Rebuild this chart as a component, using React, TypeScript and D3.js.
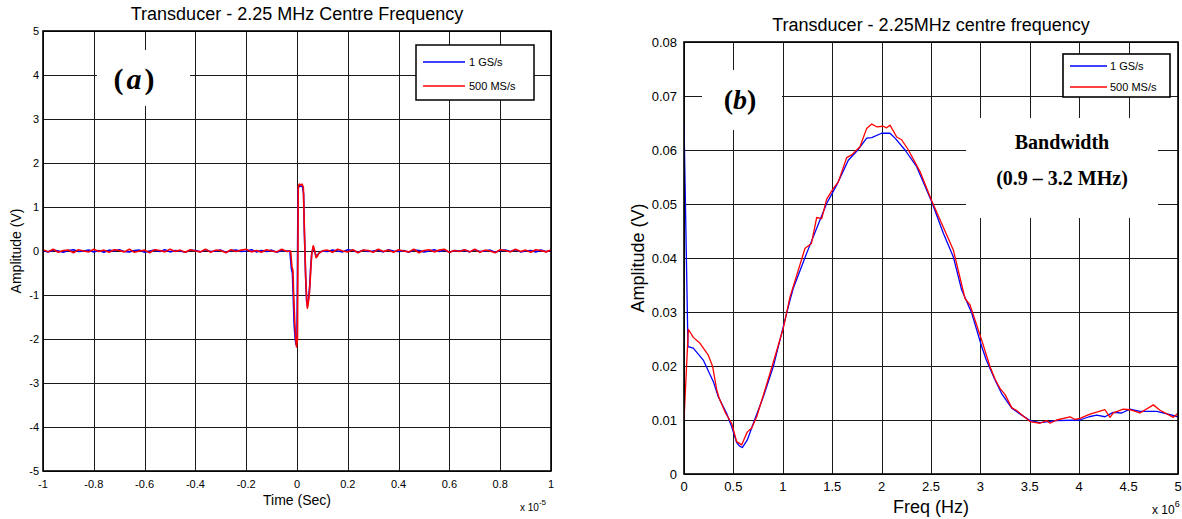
import React from 'react';
import * as d3 from 'd3';

// ---------- Data: panel (a) time domain (time in units of 1e-5 s) ----------
const timeTicks = [-1, -0.8, -0.6, -0.4, -0.2, 0, 0.2, 0.4, 0.6, 0.8, 1];
const ampTicks = [-5, -4, -3, -2, -1, 0, 1, 2, 3, 4, 5];

// baseline noise, sampled every 0.02 (x1e-5 s)
const noiseStep = 0.02;
const preStart = -1;
const postStart = 0.12;
const blueNoisePre = [
  0.01, -0.02, 0.02, 0.0, -0.03, 0.01, 0.03, -0.01, 0.0, 0.02,
  -0.02, 0.01, -0.03, 0.02, 0.0, 0.03, -0.01, -0.02, 0.01, 0.02,
  -0.03, 0.0, 0.02, -0.01, 0.03, -0.02, 0.01, 0.0, -0.03, 0.02,
  0.01, -0.02, 0.03, -0.01, 0.0, 0.02, -0.03, 0.01, 0.02, -0.01,
  0.0, 0.03, -0.02, 0.01, -0.01, 0.02, -0.03, 0.01, 0.0,
];
const blueNoisePost = [
  -0.01, 0.02, 0.0, -0.02, 0.03, 0.01, -0.03, 0.02, -0.01, 0.0,
  0.02, -0.02, 0.03, 0.0, -0.01, 0.01, -0.03, 0.02, 0.01, -0.02,
  0.0, 0.03, -0.01, 0.02, -0.03, 0.01, 0.0, 0.02, -0.02, 0.03,
  -0.01, 0.0, 0.02, -0.03, 0.01, 0.02, -0.01, 0.03, -0.02, 0.0,
  0.01, -0.02, 0.02, -0.01, 0.0,
];
const redNoisePre = [
  0.03, -0.02, 0.04, -0.03, 0.01, 0.02, -0.04, 0.03, 0.0, -0.02,
  0.04, -0.01, 0.02, -0.03, 0.03, 0.01, -0.02, 0.04, -0.03, 0.0,
  0.02, -0.04, 0.03, 0.01, -0.02, 0.04, -0.01, 0.02, -0.03, 0.03,
  0.0, -0.02, 0.04, -0.03, 0.02, 0.01, -0.04, 0.03, -0.01, 0.02,
  0.04, -0.02, 0.01, -0.03, 0.03, 0.0, -0.02, 0.04, -0.01,
];
const redNoisePost = [
  0.02, -0.03, 0.04, 0.0, -0.02, 0.03, -0.04, 0.02, 0.01, -0.03,
  0.04, -0.01, 0.02, -0.03, 0.03, 0.0, -0.02, 0.04, -0.04, 0.01,
  0.03, -0.02, 0.02, 0.04, -0.03, 0.01, -0.01, 0.03, -0.02, 0.04,
  -0.03, 0.02, 0.0, -0.04, 0.03, 0.01, -0.02, 0.04, -0.01, 0.02,
  -0.03, 0.03, 0.01, -0.02, 0.02,
];
// pulse around t = 0
const bluePulseT = [-0.028, -0.022, -0.018, -0.015, -0.011, -0.007, -0.004, 0.0, 0.004, 0.008, 0.015, 0.022, 0.026, 0.029, 0.034, 0.038, 0.041, 0.045, 0.05, 0.054, 0.058, 0.064, 0.07, 0.075, 0.082, 0.09, 0.1];
const bluePulseV = [0.0, -0.4, -0.5, -1.0, -1.7, -2.0, -2.12, -1.9, 1.4, 1.48, 1.47, 1.46, 1.3, 0.45, -0.6, -1.15, -1.25, -1.1, -0.8, -0.35, -0.05, 0.08, -0.02, -0.12, -0.08, -0.03, 0.0];
const redPulseT = [-0.025, -0.02, -0.016, -0.013, -0.009, -0.006, -0.002, 0.002, 0.005, 0.009, 0.015, 0.02, 0.025, 0.029, 0.034, 0.038, 0.041, 0.045, 0.049, 0.054, 0.058, 0.064, 0.07, 0.075, 0.08, 0.085, 0.095, 0.105];
const redPulseV = [0.0, -0.35, -0.45, -1.0, -1.6, -1.9, -2.18, -2.0, 1.45, 1.52, 1.5, 1.52, 1.45, 0.5, -0.55, -1.1, -1.3, -1.15, -0.95, -0.45, -0.07, 0.12, 0.0, -0.15, -0.12, -0.06, -0.02, 0.01];

// ---------- Data: panel (b) spectrum (frequency in MHz) ----------
const freqTicks = [0, 0.5, 1, 1.5, 2, 2.5, 3, 3.5, 4, 4.5, 5];
const specTicks = [0, 0.01, 0.02, 0.03, 0.04, 0.05, 0.06, 0.07, 0.08];

const blueF = [0, 0.04, 0.094, 0.195, 0.297, 0.347, 0.432, 0.482, 0.533, 0.56, 0.59, 0.641, 0.702, 0.803, 0.904, 1.005, 1.073, 1.106, 1.242, 1.343, 1.444, 1.545, 1.663, 1.764, 1.849, 1.9, 2.0, 2.085, 2.136, 2.237, 2.355, 2.507, 2.625, 2.726, 2.81, 2.912, 3.013, 3.06, 3.148, 3.215, 3.317, 3.418, 3.502, 3.603, 3.77, 4.008, 4.1, 4.177, 4.26, 4.345, 4.43, 4.514, 4.615, 4.784, 4.9, 5.0];
const blueA = [0.065, 0.0236, 0.0233, 0.0211, 0.0171, 0.0143, 0.0112, 0.0088, 0.0058, 0.0052, 0.0049, 0.0063, 0.0094, 0.0143, 0.0199, 0.0273, 0.0322, 0.0344, 0.0409, 0.0455, 0.0501, 0.0535, 0.0581, 0.0601, 0.0622, 0.0623, 0.0631, 0.0631, 0.0622, 0.06, 0.0569, 0.0504, 0.0446, 0.0402, 0.0341, 0.0298, 0.0236, 0.0211, 0.0174, 0.0149, 0.0122, 0.0109, 0.0099, 0.0095, 0.0099, 0.01, 0.0106, 0.0109, 0.0106, 0.0114, 0.0113, 0.012, 0.0116, 0.0116, 0.0111, 0.0106];
const redF = [0, 0.044, 0.094, 0.162, 0.246, 0.29, 0.331, 0.357, 0.42, 0.482, 0.533, 0.584, 0.641, 0.685, 0.736, 0.87, 1.005, 1.073, 1.225, 1.29, 1.343, 1.394, 1.444, 1.512, 1.562, 1.647, 1.697, 1.781, 1.849, 1.9, 1.95, 2.017, 2.05, 2.085, 2.153, 2.203, 2.271, 2.389, 2.507, 2.608, 2.726, 2.844, 2.895, 3.013, 3.097, 3.148, 3.2, 3.25, 3.317, 3.37, 3.43, 3.502, 3.603, 3.671, 3.705, 3.772, 3.907, 3.958, 4.008, 4.109, 4.261, 4.312, 4.345, 4.446, 4.514, 4.615, 4.75, 4.818, 4.953, 5.003];
const redA = [0.01, 0.0268, 0.0253, 0.0242, 0.022, 0.0199, 0.0156, 0.014, 0.0113, 0.0094, 0.006, 0.0054, 0.0078, 0.0085, 0.0106, 0.0186, 0.027, 0.0328, 0.0418, 0.0427, 0.0475, 0.0473, 0.0509, 0.0529, 0.0541, 0.0586, 0.0591, 0.0606, 0.064, 0.0648, 0.0643, 0.0644, 0.0641, 0.0646, 0.0624, 0.0619, 0.06, 0.056, 0.0506, 0.0464, 0.0415, 0.0325, 0.0313, 0.0248, 0.0199, 0.0176, 0.0158, 0.0147, 0.0123, 0.0117, 0.0108, 0.0097, 0.0094, 0.0099, 0.0094, 0.01, 0.0106, 0.0101, 0.0103, 0.0111, 0.0119, 0.0105, 0.0113, 0.012, 0.0119, 0.0113, 0.0128, 0.0118, 0.0105, 0.0113];

const legendLabels = ['1 GS/s', '500 MS/s'];
const BLUE = '#0000ff';
const RED = '#ff0000';
const GRID = '#1a1a1a';
const SANS = 'Arial, "Liberation Sans", Helvetica, sans-serif';
const SERIF = '"Times New Roman", "Liberation Serif", serif';

type Pt = [number, number];

function buildTime(pre: number[], pT: number[], pV: number[], post: number[]): Pt[] {
  const pts: Pt[] = [];
  pre.forEach((v, i) => pts.push([preStart + i * noiseStep, v]));
  pT.forEach((t, i) => pts.push([t, pV[i]]));
  post.forEach((v, i) => pts.push([postStart + i * noiseStep, v]));
  return pts;
}

const fmt = (v: number) => String(+v.toFixed(4));

export default function App() {
  // ---- panel (a) ----
  const aL = 43, aR = 551, aT = 31, aB = 471;
  const xa = d3.scaleLinear().domain([-1, 1]).range([aL, aR]);
  const ya = d3.scaleLinear().domain([-5, 5]).range([aB, aT]);
  const lineA = d3.line<Pt>().x(d => xa(d[0])).y(d => ya(d[1]));
  const bluePts = buildTime(blueNoisePre, bluePulseT, bluePulseV, blueNoisePost);
  const redPts = buildTime(redNoisePre, redPulseT, redPulseV, redNoisePost);

  // ---- panel (b) ----
  const bL = 684, bR = 1178, bT = 42, bB = 474;
  const xb = d3.scaleLinear().domain([0, 5]).range([bL, bR]);
  const yb = d3.scaleLinear().domain([0, 0.08]).range([bB, bT]);
  const lineB = d3.line<Pt>().x(d => xb(d[0])).y(d => yb(d[1]));
  const blueSpec: Pt[] = blueF.map((f, i) => [f, blueA[i]]);
  const redSpec: Pt[] = redF.map((f, i) => [f, redA[i]]);

  const crisp = (v: number) => Math.round(v) + 0.5;

  return (
    <svg width={1182} height={519} style={{ position: 'absolute', left: 0, top: 0, background: '#fff' }}>
      <defs>
        <clipPath id="clipA"><rect x={aL} y={aT} width={aR - aL} height={aB - aT} /></clipPath>
        <clipPath id="clipB"><rect x={bL} y={bT} width={bR - bL} height={bB - bT} /></clipPath>
      </defs>
      <rect x={0} y={0} width={1182} height={519} fill="#fff" />

      {/* ===== Panel (a) ===== */}
      <text x={297} y={20} textAnchor="middle" fontFamily={SANS} fontSize={18}>Transducer - 2.25 MHz Centre Frequency</text>
      <g shapeRendering="crispEdges" stroke={GRID} strokeWidth={1}>
        {timeTicks.map(t => <line key={'ga' + t} x1={crisp(xa(t))} x2={crisp(xa(t))} y1={aT} y2={aB} />)}
        {ampTicks.map(v => <line key={'gya' + v} x1={aL} x2={aR} y1={crisp(ya(v))} y2={crisp(ya(v))} />)}
      </g>
      <g clipPath="url(#clipA)" fill="none" strokeWidth={1.6} strokeLinejoin="round">
        <path d={lineA(bluePts) || ''} stroke={BLUE} />
        <path d={lineA(redPts) || ''} stroke={RED} />
      </g>
      {/* (a) label box */}
      <rect x={97} y={50} width={93} height={56} fill="#fff" />
      <text x={134} y={89} textAnchor="middle" fontFamily={SERIF} fontSize={30} fontWeight="bold">
        (<tspan dx={3} fontStyle="italic">a</tspan><tspan dx={3}>)</tspan>
      </text>
      {/* legend (a) */}
      <rect x={416} y={45} width={118} height={55} fill="#fff" stroke="#000" strokeWidth={1.5} />
      {legendLabels.map((lab, i) => (
        <g key={'la' + lab}>
          <line x1={423} x2={465} y1={62 + i * 24} y2={62 + i * 24} stroke={i === 0 ? BLUE : RED} strokeWidth={1.3} />
          <text x={469} y={66 + i * 24} fontFamily={SANS} fontSize={11}>{lab}</text>
        </g>
      ))}
      <rect x={aL} y={aT} width={aR - aL} height={aB - aT} fill="none" stroke="#000" strokeWidth={1.6} />
      {timeTicks.map(t => (
        <text key={'ta' + t} x={xa(t)} y={488} textAnchor="middle" fontFamily={SANS} fontSize={11}>{fmt(t)}</text>
      ))}
      {ampTicks.map(v => (
        <text key={'tya' + v} x={39} y={ya(v) + 4} textAnchor="end" fontFamily={SANS} fontSize={11}>{fmt(v)}</text>
      ))}
      <text x={297} y={505} textAnchor="middle" fontFamily={SANS} fontSize={14}>Time (Sec)</text>
      <text transform={`translate(21,${(aT + aB) / 2}) rotate(-90)`} textAnchor="middle" fontFamily={SANS} fontSize={14}>Amplitude (V)</text>
      <text x={520} y={511} fontFamily={SANS} fontSize={10}>x 10<tspan dy={-6} fontSize={8}>-5</tspan></text>

      {/* ===== Panel (b) ===== */}
      <text x={931} y={31} textAnchor="middle" fontFamily={SANS} fontSize={18}>Transducer - 2.25MHz centre frequency</text>
      <g shapeRendering="crispEdges" stroke={GRID} strokeWidth={1}>
        {freqTicks.map(f => <line key={'gb' + f} x1={crisp(xb(f))} x2={crisp(xb(f))} y1={bT} y2={bB} />)}
        {specTicks.map(v => <line key={'gyb' + v} x1={bL} x2={bR} y1={crisp(yb(v))} y2={crisp(yb(v))} />)}
      </g>
      <g clipPath="url(#clipB)" fill="none" strokeWidth={1.3} strokeLinejoin="round">
        <path d={lineB(blueSpec) || ''} stroke={BLUE} />
        <path d={lineB(redSpec) || ''} stroke={RED} />
      </g>
      {/* (b) label box */}
      <rect x={702} y={70} width={80} height={60} fill="#fff" />
      <text x={740} y={109} textAnchor="middle" fontFamily={SERIF} fontSize={28} fontWeight="bold">
        (<tspan fontStyle="italic">b</tspan>)
      </text>
      {/* bandwidth box */}
      <rect x={966} y={118} width={192} height={100} fill="#fff" />
      <text x={1062} y={149} textAnchor="middle" fontFamily={SERIF} fontSize={20} fontWeight="bold">Bandwidth</text>
      <text x={1062} y={185} textAnchor="middle" fontFamily={SERIF} fontSize={20} fontWeight="bold">(0.9 – 3.2 MHz)</text>
      {/* legend (b) */}
      <rect x={1063} y={54} width={107} height={43} fill="#fff" stroke="#000" strokeWidth={1.6} />
      {legendLabels.map((lab, i) => (
        <g key={'lb' + lab}>
          <line x1={1070} x2={1107} y1={66 + i * 21} y2={66 + i * 21} stroke={i === 0 ? BLUE : RED} strokeWidth={1.3} />
          <text x={1110} y={70 + i * 21} fontFamily={SANS} fontSize={11}>{lab}</text>
        </g>
      ))}
      <rect x={bL} y={bT} width={bR - bL} height={bB - bT} fill="none" stroke="#000" strokeWidth={1.6} />
      {freqTicks.map(f => (
        <text key={'tb' + f} x={xb(f)} y={491} textAnchor="middle" fontFamily={SANS} fontSize={13}>{fmt(f)}</text>
      ))}
      {specTicks.map(v => (
        <text key={'tyb' + v} x={677} y={yb(v) + 5} textAnchor="end" fontFamily={SANS} fontSize={13}>{fmt(v)}</text>
      ))}
      <text x={931} y={513} textAnchor="middle" fontFamily={SANS} fontSize={18}>Freq (Hz)</text>
      <text transform={`translate(644,${(bT + bB) / 2}) rotate(-90)`} textAnchor="middle" fontFamily={SANS} fontSize={18}>Amplitude (V)</text>
      <text x={1152} y={514} fontFamily={SANS} fontSize={12}>x 10<tspan dy={-7} fontSize={9}>6</tspan></text>
    </svg>
  );
}
